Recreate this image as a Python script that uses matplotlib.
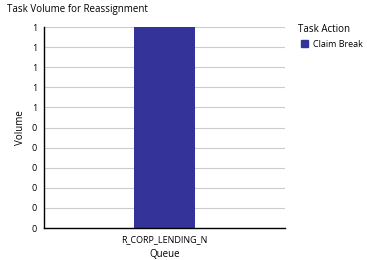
import matplotlib.pyplot as plt
import numpy as np
from matplotlib.patches import Patch
from matplotlib.ticker import FuncFormatter

queues = ['R_CORP_LENDING_N']
claim_break = [1]
y_ticks = np.arange(0, 11) / 10

plt.rcParams['font.family'] = ['Open Sans', 'DejaVu Sans']

fig = plt.figure(figsize=(3.67, 2.60), dpi=100)
ax = fig.add_axes([0.12, 0.123, 0.657, 0.773])

x = np.arange(len(queues))
ax.bar(x, claim_break, width=0.5, color='#333399', zorder=2)
ax.set_xlim(-1, 1)
ax.set_ylim(0, 1)
ax.set_xticks(x)
ax.set_xticklabels(queues, fontsize=6.5)
ax.set_yticks(y_ticks)
ax.yaxis.set_major_formatter(FuncFormatter(lambda v, p: '{:.0f}'.format(v)))
ax.tick_params(axis='y', labelsize=6.5, length=0, pad=5)
ax.tick_params(axis='x', length=0, pad=5)
ax.grid(axis='y', color='#cccccc', lw=0.8, zorder=0)
for s in ['top', 'right']:
    ax.spines[s].set_visible(False)
ax.spines['left'].set_linewidth(1)
ax.spines['bottom'].set_linewidth(1)
ax.set_ylabel('Volume', fontsize=7, labelpad=4)
ax.set_xlabel('Queue', fontsize=7, labelpad=3.5)

fig.text(0.019, 0.965, 'Task Volume for Reassignment', fontsize=7, va='center')
fig.text(298 / 367, 1 - 29 / 260, 'Task Action', fontsize=7, va='center')

handles = [Patch(color='#333399', label='Claim Break')]
ax.legend(handles=handles, loc='upper left',
          bbox_to_anchor=(299 / 367, 1 - 38 / 260), bbox_transform=fig.transFigure,
          frameon=False, fontsize=6.5, handlelength=0.8, handleheight=0.8,
          handletextpad=0.6, borderaxespad=0, borderpad=0.2)

fig.savefig('out.png', dpi=100)
